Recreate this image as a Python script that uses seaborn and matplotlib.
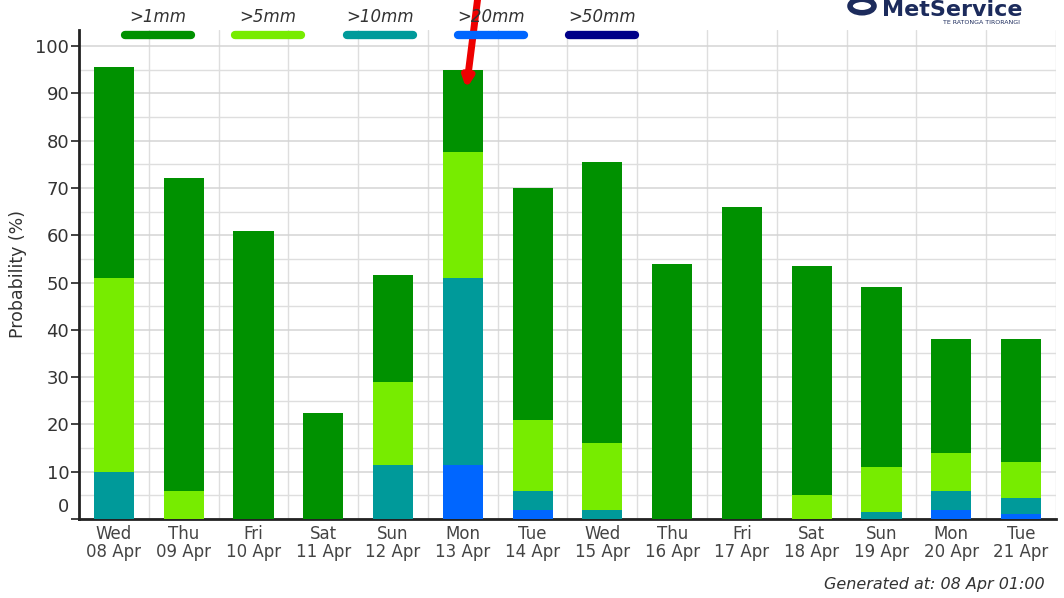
import numpy as np
import pandas as pd
import matplotlib
matplotlib.use('Agg')
import matplotlib.pyplot as plt
import matplotlib.transforms as mtransforms
from matplotlib.lines import Line2D
import seaborn as sns

# days shown on the x axis
days = ['Wed', 'Thu', 'Fri', 'Sat', 'Sun', 'Mon', 'Tue',
        'Wed', 'Thu', 'Fri', 'Sat', 'Sun', 'Mon', 'Tue']
dates = ['08 Apr', '09 Apr', '10 Apr', '11 Apr', '12 Apr', '13 Apr', '14 Apr',
         '15 Apr', '16 Apr', '17 Apr', '18 Apr', '19 Apr', '20 Apr', '21 Apr']

# probability (%) of rain exceeding each threshold
p_1mm = [95.5, 72, 61, 22.5, 51.5, 95, 70, 75.5, 54, 66, 53.5, 49, 38, 38]
p_5mm = [51, 6, 0, 0, 29, 77.5, 21, 16, 0, 0, 5, 11, 14, 12]
p_10mm = [10, 0, 0, 0, 11.5, 51, 6, 2, 0, 0, 0, 1.5, 6, 4.5]
p_20mm = [0, 0, 0, 0, 0, 11.5, 2, 0, 0, 0, 0, 0, 2, 1]
p_50mm = [0, 0, 0, 0, 0, 0, 0, 0, 0, 0, 0, 0, 0, 0]

thresholds = ['>1mm', '>5mm', '>10mm', '>20mm', '>50mm']
colours = ['#009100', '#77ec00', '#009a9a', '#0066ff', '#000088']

labels = [d + '\n' + dt for d, dt in zip(days, dates)]
df = pd.DataFrame({'day': labels, '>1mm': p_1mm, '>5mm': p_5mm,
                   '>10mm': p_10mm, '>20mm': p_20mm, '>50mm': p_50mm})

sns.set_style('white')
plt.rcParams['font.family'] = ['DejaVu Sans']

fig = plt.figure(figsize=(10.64, 5.98), dpi=100)
ax = fig.add_axes([79/1064, 1-519/598, (1056-79)/1064, (519-30)/598])

# each threshold drawn on top of the previous one (exceedance bars overlap)
for th, col in zip(thresholds, colours):
    sns.barplot(data=df, x='day', y=th, color=col, width=0.575,
                linewidth=0, saturation=1, ax=ax, zorder=3)

ax.set_xlim(-0.5, len(labels) - 0.5)
ax.set_ylim(0, 103.4)
ax.set_yticks(np.arange(0, 101, 10))
ax.set_yticks(np.arange(5, 101, 10), minor=True)
ax.set_xticks(np.arange(-0.5, len(labels), 1), minor=True)
ax.grid(True, which='major', axis='y', color='#d4d4d4', lw=1.1, zorder=0)
ax.grid(True, which='minor', axis='both', color='#dedede', lw=1.0, zorder=0)
ax.set_axisbelow(True)

for s in ['top', 'right']:
    ax.spines[s].set_visible(False)
for s in ['left', 'bottom']:
    ax.spines[s].set_color('#222222')
    ax.spines[s].set_linewidth(2)

ax.tick_params(axis='y', which='major', length=6, width=1.2, color='#222222',
               labelsize=13, labelcolor='#333333', pad=1, left=True)
ax.tick_params(axis='y', which='minor', length=0)
ax.tick_params(axis='x', which='both', length=0, labelsize=12,
               labelcolor='#444444', pad=4)
for t in ax.get_xticklabels():
    t.set_linespacing(1.05)

# the zero label sits a bit above the axis line
zero = ax.get_yticklabels()[0]
zero.set_transform(zero.get_transform() +
                   mtransforms.ScaledTranslation(0, 10/72, fig.dpi_scale_trans))

ax.set_xlabel('')
ax.set_ylabel('Probability (%)', fontsize=12.5, color='#333333', labelpad=6)

# legend across the top
sw_x = [158, 268, 380, 491, 602]
for th, col, cx in zip(thresholds, colours, sw_x):
    fig.text(cx/1064, 1-17/598, th, ha='center', va='center',
             fontsize=12, style='italic', color='#333333')
    fig.add_artist(Line2D([(cx-33)/1064, (cx+33)/1064], [1-35/598, 1-35/598],
                          transform=fig.transFigure, color=col, lw=6,
                          solid_capstyle='round'))

# red arrow pointing at Monday
ax.annotate('', xy=(5.05, 91), xycoords='data',
            xytext=(479/1064, 1.02), textcoords='figure fraction',
            arrowprops=dict(arrowstyle='-|>', color='#ee0000', lw=5,
                            mutation_scale=14, shrinkA=0, shrinkB=0),
            annotation_clip=False, zorder=10)

# MetService logo
fig.text(1022/1064, 1-16/598, 'MetService', ha='right', va='baseline',
         fontsize=16, fontweight='bold', color='#1c2b5c')
fig.text(1020/1064, 1-23/598, 'TE RATONGA TIRORANGI', ha='right', va='center',
         fontsize=4.5, color='#1c2b5c')
fig.add_artist(plt.Circle((862/1064, 1-6/598), 12/1064, transform=fig.transFigure,
                          fill=False, lw=4, color='#1c2b5c'))

fig.text(1045/1064, 1-584/598, 'Generated at: 08 Apr 01:00', ha='right',
         va='center', fontsize=11.5, style='italic', color='#333333')

fig.savefig('out.png', dpi=100)
